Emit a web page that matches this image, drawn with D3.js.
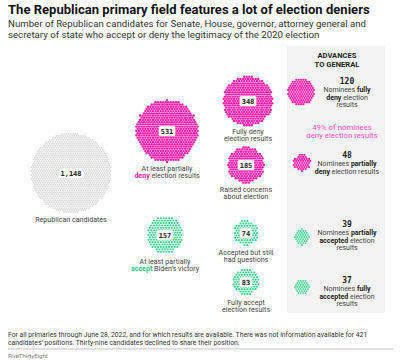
<!DOCTYPE html>
<html>
<head>
<meta charset="utf-8">
<script src="https://cdn.jsdelivr.net/npm/d3@7"></script>
<style>
  body { margin: 0; background: #fff; }
  svg { display: block; font-family: Roboto, "Liberation Sans", sans-serif; }
</style>
</head>
<body>
<div id="chart"></div>
<script>
// Bubble chart of Republican primary candidates and election denial.
// One small dot per candidate, packed on a hex grid.

const width = 400;
const height = 363;

// ---- data ----
const mainCounts = [1148, 531, 348, 185, 157, 74, 83];
const mainKinds = ["total", "deny", "deny", "deny", "accept", "accept", "accept"];
const mainLabels = [
  [[["Republican candidates", ""]]],
  [[["At least partially", ""]], [["deny", "pink"], [" election results", ""]]],
  [[["Fully deny", ""]], [["election results", ""]]],
  [[["Raised concerns", ""]], [["about election", ""]]],
  [[["At least partially", ""]], [["accept", "green"], [" Biden\u2019s victory", ""]]],
  [[["Accepted but still", ""]], [["had questions", ""]]],
  [[["Fully accept", ""]], [["election results", ""]]]
];

const nomineeCounts = [120, 48, 39, 37];
const nomineeKinds = ["deny", "deny", "accept", "accept"];
const nomineeLabels = [
  [[["Nominees ", ""], ["fully", "b"]], [["deny", "b"], [" election", ""]], [["results", ""]]],
  [[["Nominees ", ""], ["partially", "b"]], [["deny", "b"], [" election results", ""]]],
  [[["Nominees ", ""], ["partially", "b"]], [["accepted", "b"], [" election", ""]], [["results", ""]]],
  [[["Nominees ", ""], ["fully", "b"]], [["accepted", "b"], [" election", ""]], [["results", ""]]]
];
const denyShare = 49;

// ---- layout (pixel positions) ----
const mainPos = [[71, 173], [167, 131], [248, 101], [246, 165], [165, 235], [246, 233], [246, 282]];
const mainLabelY = [219, 168, 131, 189, 261, 252, 302];
const nomineePos = [[301, 92], [302, 163], [302, 237], [302, 287]];
const nomineeNumY = [81, 155, 224, 280];

const color = d3.scaleOrdinal()
  .domain(["total", "deny", "accept"])
  .range(["#d9d9d9", "#ff1aab", "#2fd58a"]);
const spacing = d3.scaleOrdinal()
  .domain(["total", "deny", "accept"])
  .range([2.25, 2.55, 2.75]);
const dotRatio = d3.scaleOrdinal()
  .domain(["total", "deny", "accept"])
  .range([0.42, 0.47, 0.38]);

const styleColor = { "": "#444", b: "#222", pink: "#ff1aab", green: "#1ec97a" };

const svg = d3.select("#chart")
  .append("svg")
  .attr("width", width)
  .attr("height", height)
  .attr("viewBox", `0 0 ${width} ${height}`);

function hexDots(n, s) {
  const h = s * Math.sqrt(3) / 2;
  const k = Math.ceil(Math.sqrt(n)) + 2;
  const pts = [];
  for (let j = -k; j <= k; j++) {
    for (let i = -k; i <= k; i++) {
      const x = (i + (j & 1 ? 0.5 : 0)) * s;
      const y = j * h;
      pts.push([x, y, x * x + y * y]);
    }
  }
  pts.sort((a, b) => a[2] - b[2] || a[1] - b[1] || a[0] - b[0]);
  return pts.slice(0, n);
}

// shrink or grow a text's font so it spans the given width
function fitWidth(sel, target) {
  const size = +sel.attr("font-size");
  const w = sel.node().getComputedTextLength();
  sel.attr("font-size", (size * target / w).toFixed(2));
  return sel;
}

function drawBubble(cx, cy, n, kind, s, showNum) {
  const g = svg.append("g").attr("transform", `translate(${cx},${cy})`);
  g.selectAll("circle")
    .data(hexDots(n, s))
    .join("circle")
    .attr("cx", d => d[0])
    .attr("cy", d => d[1])
    .attr("r", s * dotRatio(kind))
    .attr("fill", color(kind));
  if (showNum) {
    const t = g.append("text")
      .attr("text-anchor", "middle")
      .attr("y", 2.5)
      .attr("font-family", "'DejaVu Sans Mono', monospace")
      .attr("font-weight", "bold")
      .attr("font-size", 7)
      .attr("fill", "#222")
      .text(d3.format(",")(n));
    const bb = t.node().getBBox();
    g.insert("rect", "text")
      .attr("x", bb.x - 2)
      .attr("y", -5)
      .attr("width", bb.width + 4)
      .attr("height", 10)
      .attr("rx", 1.5)
      .attr("fill", "#fff");
  }
}

function drawLines(x, y0, lines, size, step) {
  lines.forEach((segs, i) => {
    const t = svg.append("text")
      .attr("x", x)
      .attr("y", y0 + i * step + size * 0.36)
      .attr("text-anchor", "middle")
      .attr("font-size", size);
    segs.forEach(([txt, st]) => {
      t.append("tspan")
        .attr("fill", styleColor[st])
        .attr("font-weight", st ? "bold" : "normal")
        .text(txt);
    });
  });
}

// title and subtitle
fitWidth(svg.append("text")
  .attr("x", 8).attr("y", 14)
  .attr("font-size", 11.3)
  .attr("font-weight", "bold")
  .attr("fill", "#111")
  .text("The Republican primary field features a lot of election deniers"), 362);

const subSize = [];
["Number of Republican candidates for Senate, House, governor, attorney general and",
 "secretary of state who accept or deny the legitimacy of the 2020 election"].forEach((l, i) => {
  const t = svg.append("text")
    .attr("x", 8).attr("y", 27 + i * 11)
    .attr("font-size", subSize[0] || 8.4)
    .attr("fill", "#333")
    .text(l);
  if (i === 0) subSize.push(+fitWidth(t, 357).attr("font-size"));
});

// nominee panel
svg.append("rect")
  .attr("x", 287).attr("y", 46)
  .attr("width", 98).attr("height", 267)
  .attr("fill", "#f3f3f3");

["ADVANCES", "TO GENERAL"].forEach((l, i) => {
  svg.append("text")
    .attr("x", 337).attr("y", 58 + i * 8.5)
    .attr("text-anchor", "middle")
    .attr("font-size", 7.6)
    .attr("font-weight", "bold")
    .attr("fill", "#222")
    .text(l);
});

// main bubbles
mainCounts.forEach((n, i) => {
  const [cx, cy] = mainPos[i];
  drawBubble(cx, cy, n, mainKinds[i], spacing(mainKinds[i]), true);
  drawLines(cx, mainLabelY[i], mainLabels[i], 7.1, 7.8);
});

// nominee bubbles
nomineeCounts.forEach((n, i) => {
  const [cx, cy] = nomineePos[i];
  drawBubble(cx, cy, n, nomineeKinds[i], 2.35, false);
  svg.append("text")
    .attr("x", 347).attr("y", nomineeNumY[i] + 3)
    .attr("text-anchor", "middle")
    .attr("font-family", "'DejaVu Sans Mono', monospace")
    .attr("font-weight", "bold")
    .attr("font-size", 8)
    .attr("fill", "#222")
    .text(n);
  drawLines(347, nomineeNumY[i] + 8.5, nomineeLabels[i], 7, 7.6);
});

// share of nominees who deny
[`${denyShare}% of nominees`, "deny election results"].forEach((l, i) => {
  svg.append("text")
    .attr("x", 342).attr("y", 130 + i * 8)
    .attr("text-anchor", "middle")
    .attr("font-size", 7.8)
    .attr("fill", "#ff4fc2")
    .text(l);
});

// footer
const footSize = [];
["For all primaries through June 28, 2022, and for which results are available. There was not information available for 421",
 "candidates\u2019 positions. Thirty-nine candidates declined to share their position."].forEach((l, i) => {
  const t = svg.append("text")
    .attr("x", 8).attr("y", 337 + i * 7.5)
    .attr("font-size", footSize[0] || 6.2)
    .attr("fill", "#333")
    .text(l);
  if (i === 0) footSize.push(+fitWidth(t, 359).attr("font-size"));
});

svg.append("line")
  .attr("x1", 8).attr("x2", 393)
  .attr("y1", 349).attr("y2", 349)
  .attr("stroke", "#999")
  .attr("stroke-width", 0.6);

svg.append("text")
  .attr("x", 8).attr("y", 358)
  .attr("font-size", 6)
  .attr("fill", "#777")
  .text("FiveThirtyEight");
</script>
</body>
</html>
